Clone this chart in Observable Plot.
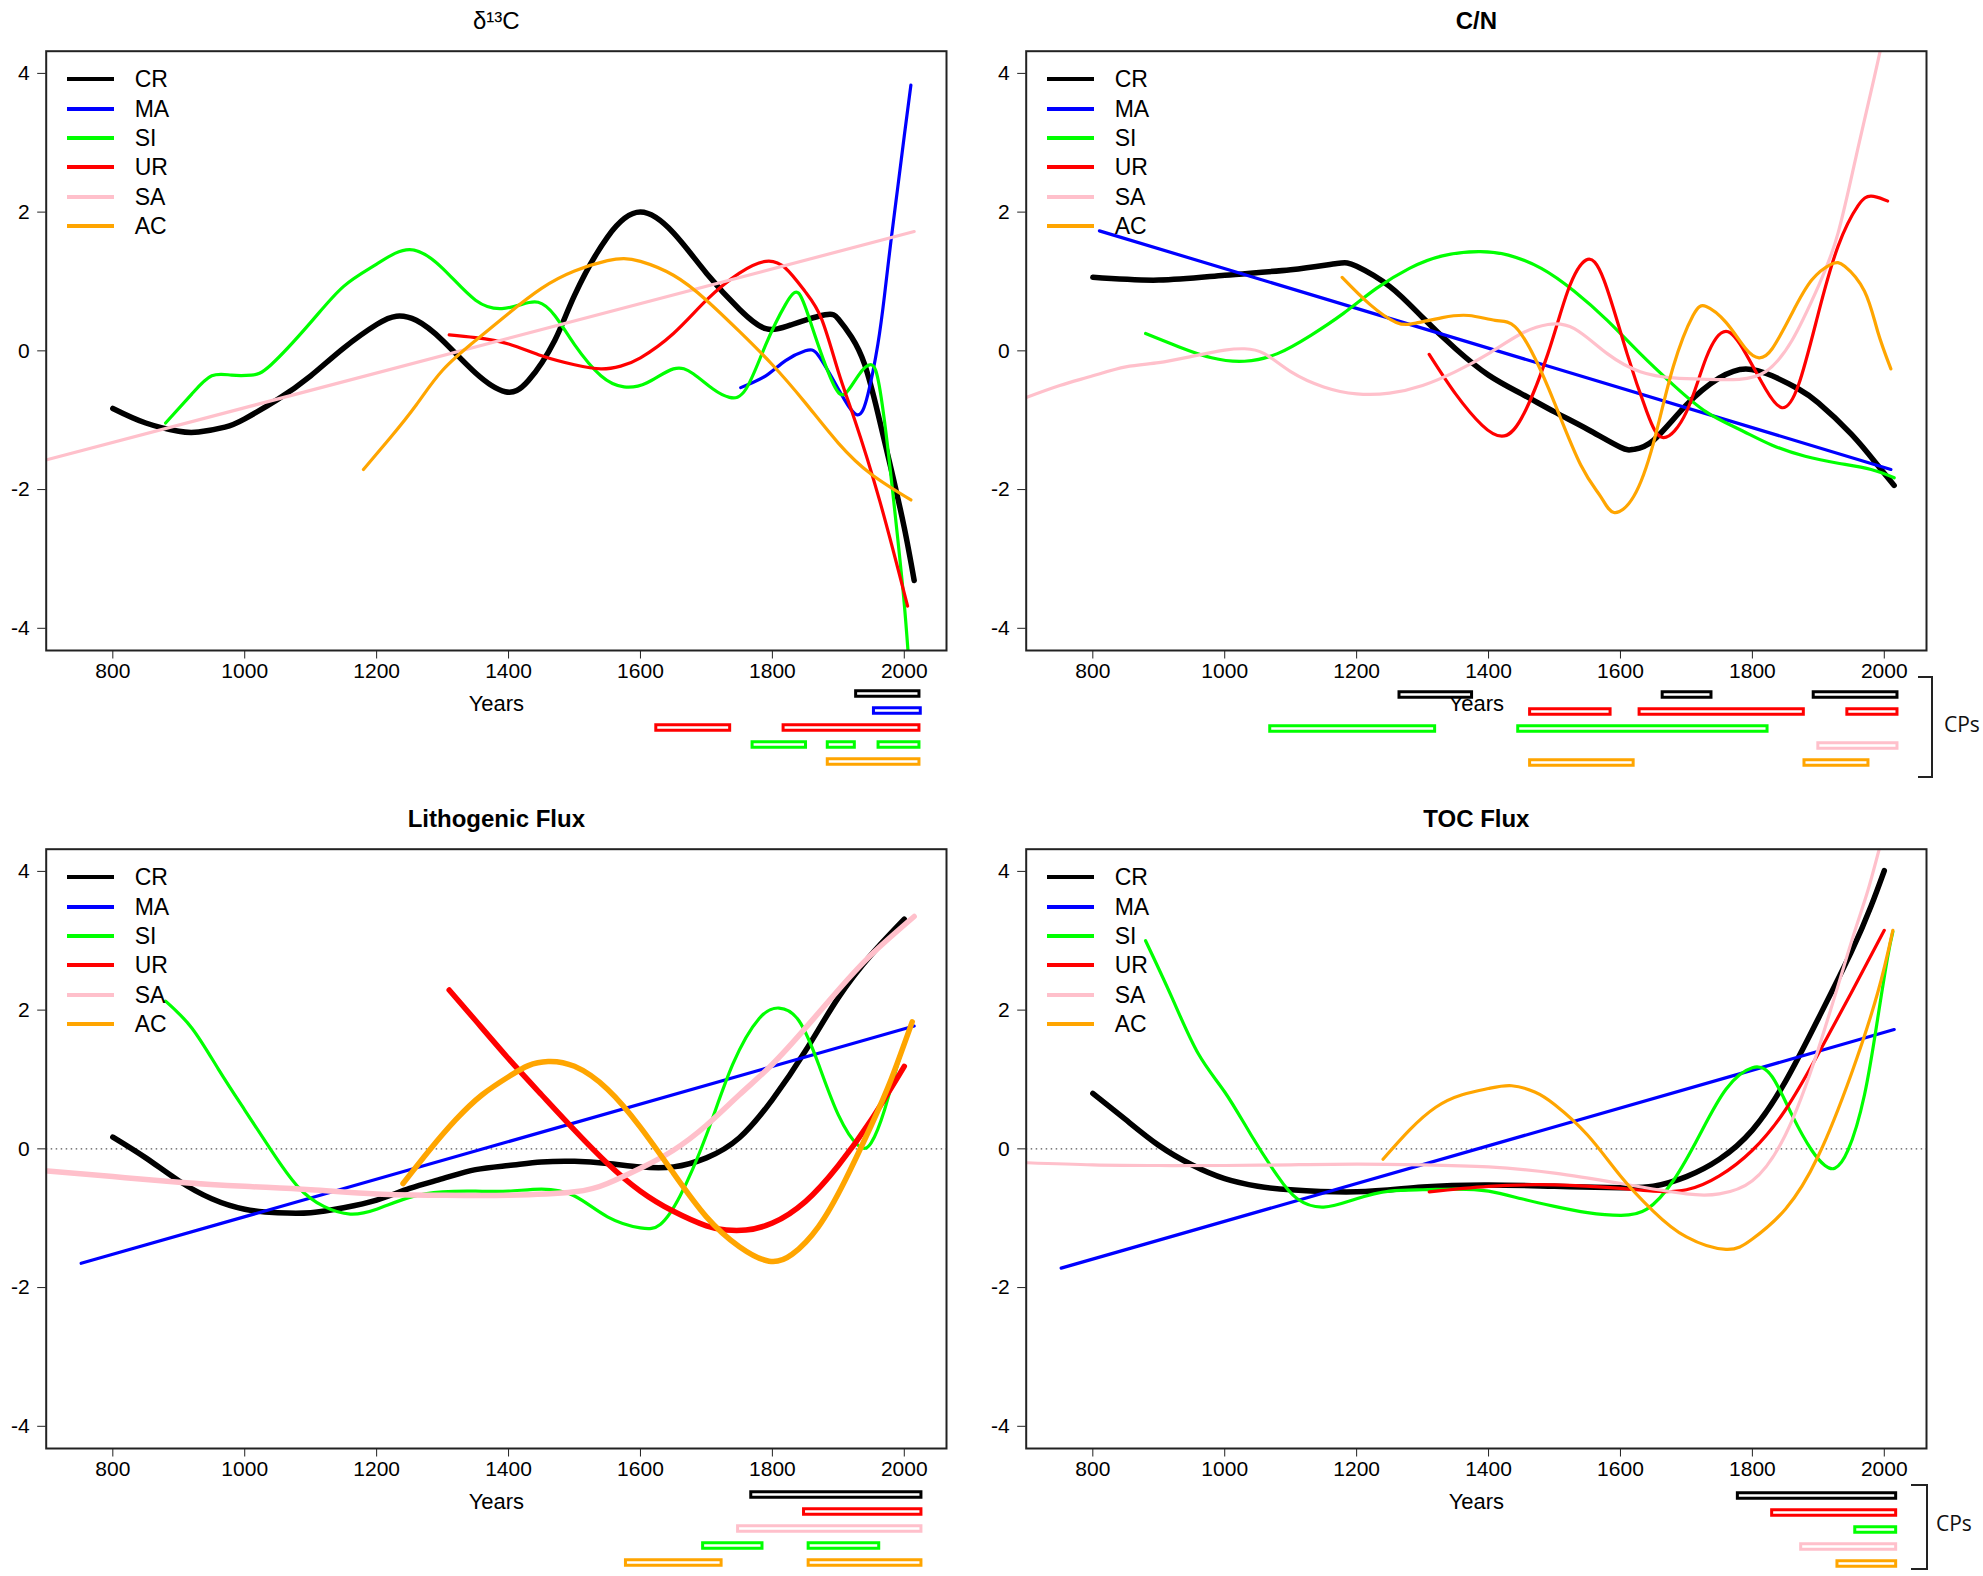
<!DOCTYPE html>
<html><head><meta charset="utf-8">
<script src="https://cdn.jsdelivr.net/npm/d3@7"></script>
<script src="https://cdn.jsdelivr.net/npm/@observablehq/plot@0.6"></script>
<style>
body{margin:0;background:#fff;}
#root{position:relative;width:1983px;height:1576px;overflow:hidden;font-family:"Liberation Sans",Arial,sans-serif;background:#fff;}
#root > svg, .abs{position:absolute;}
.legrow{position:absolute;display:flex;align-items:center;height:30px;}
.legline{width:47px;height:4px;}
.legtext{font-size:23px;color:#000;margin-left:21px;line-height:30px;}
.bracket{position:absolute;border:2px solid #222;border-left:none;box-sizing:border-box;}
.cps{position:absolute;font-family:"Open Sans","Liberation Sans",sans-serif;font-size:21px;color:#111;}
</style></head><body><div id="root"></div><script>
// ---- categories, styles of series ----
const sites = ["CR","MA","SI","UR","SA","AC"];
const siteColors = ["#000000","#0000ff","#00ff00","#ff0000","#ffc0cb","#ffa500"];
const xTicks = [800,1000,1200,1400,1600,1800,2000];
const yTicks = [-4,-2,0,2,4];
const panelTitles = ["δ¹³C","C/N","Lithogenic Flux","TOC Flux"];

// ---- δ13C ----
const d13C_CR = [[800,-0.83],[850,-1.04],[900,-1.16],[930,-1.17],[970,-1.1],[1000,-0.98],[1050,-0.7],[1100,-0.36],[1150,0.04],[1200,0.38],[1230,0.5],[1260,0.44],[1300,0.15],[1350,-0.32],[1395,-0.59],[1430,-0.43],[1470,0.15],[1500,0.8],[1550,1.64],[1600,2.0],[1650,1.7],[1700,1.12],[1750,0.6],[1790,0.32],[1830,0.38],[1880,0.52],[1900,0.46],[1920,0.2],[1940,-0.2],[1960,-0.9],[1980,-1.7],[2000,-2.55],[2015,-3.31]];
const d13C_MA = [[1752,-0.53],[1790,-0.36],[1820,-0.14],[1850,0.0],[1870,-0.07],[1900,-0.55],[1928,-0.92],[1945,-0.62],[1960,0.1],[1970,0.8],[1980,1.6],[1990,2.35],[2000,3.1],[2010,3.83]];
const d13C_SI = [[880,-1.04],[920,-0.62],[950,-0.36],[980,-0.35],[1010,-0.35],[1040,-0.2],[1100,0.41],[1150,0.93],[1200,1.25],[1250,1.46],[1300,1.19],[1350,0.73],[1390,0.61],[1420,0.67],[1445,0.7],[1470,0.51],[1500,0.09],[1540,-0.36],[1575,-0.52],[1610,-0.46],[1650,-0.26],[1680,-0.33],[1710,-0.55],[1735,-0.67],[1760,-0.55],[1790,0.09],[1820,0.67],[1840,0.83],[1860,0.35],[1890,-0.43],[1910,-0.62],[1930,-0.36],[1950,-0.2],[1962,-0.5],[1975,-1.4],[1990,-2.7],[2000,-3.65],[2007,-4.5]];
const d13C_UR = [[1310,0.23],[1350,0.19],[1400,0.1],[1450,-0.07],[1500,-0.2],[1540,-0.26],[1570,-0.22],[1600,-0.1],[1650,0.25],[1700,0.73],[1750,1.12],[1790,1.29],[1820,1.19],[1850,0.85],[1875,0.45],[1900,-0.3],[1925,-1.0],[1963,-2.17],[2005,-3.68]];
const d13C_SA = [[700,-1.57],[2015,1.72]];
const d13C_AC = [[1180,-1.71],[1220,-1.26],[1260,-0.78],[1300,-0.28],[1350,0.15],[1400,0.54],[1450,0.9],[1500,1.15],[1550,1.3],[1575,1.33],[1600,1.29],[1650,1.09],[1700,0.73],[1750,0.28],[1800,-0.2],[1850,-0.75],[1900,-1.33],[1950,-1.78],[2010,-2.15]];

// ---- C/N ----
const CN_CR = [[800,1.06],[900,1.02],[1000,1.09],[1100,1.17],[1170,1.26],[1200,1.22],[1250,0.93],[1300,0.48],[1350,0.03],[1400,-0.35],[1450,-0.62],[1500,-0.88],[1550,-1.13],[1600,-1.39],[1620,-1.42],[1650,-1.29],[1700,-0.78],[1750,-0.39],[1790,-0.26],[1830,-0.36],[1870,-0.55],[1900,-0.75],[1950,-1.2],[1990,-1.65],[2015,-1.94]];
const CN_MA = [[810,1.73],[2010,-1.71]];
const CN_SI = [[880,0.25],[930,0.06],[980,-0.1],[1030,-0.15],[1080,-0.04],[1130,0.22],[1180,0.54],[1230,0.9],[1280,1.19],[1330,1.37],[1385,1.43],[1430,1.38],[1480,1.19],[1530,0.86],[1580,0.44],[1630,-0.04],[1680,-0.49],[1730,-0.88],[1780,-1.13],[1830,-1.36],[1880,-1.52],[1930,-1.62],[1980,-1.71],[2015,-1.83]];
const CN_UR = [[1310,-0.05],[1350,-0.62],[1390,-1.07],[1420,-1.23],[1450,-0.97],[1490,-0.04],[1520,0.86],[1548,1.31],[1575,1.02],[1610,-0.04],[1640,-0.88],[1665,-1.25],[1700,-0.88],[1730,-0.1],[1760,0.28],[1790,-0.04],[1820,-0.55],[1845,-0.82],[1870,-0.49],[1900,0.54],[1930,1.51],[1960,2.09],[1980,2.23],[2000,2.18],[2005,2.16]];
const CN_SA = [[700,-0.67],[750,-0.5],[800,-0.36],[850,-0.23],[900,-0.17],[950,-0.08],[1000,0.01],[1030,0.03],[1060,-0.04],[1100,-0.3],[1150,-0.52],[1200,-0.62],[1250,-0.61],[1300,-0.5],[1350,-0.3],[1400,-0.04],[1450,0.25],[1490,0.38],[1530,0.32],[1580,-0.04],[1630,-0.3],[1680,-0.39],[1730,-0.41],[1780,-0.41],[1820,-0.3],[1860,0.15],[1900,0.93],[1930,1.7],[1960,2.92],[1985,3.95],[2000,4.6]];
const CN_AC = [[1178,1.06],[1220,0.67],[1260,0.41],[1290,0.4],[1330,0.48],[1370,0.51],[1410,0.44],[1440,0.35],[1470,-0.1],[1500,-0.75],[1540,-1.65],[1570,-2.1],[1590,-2.33],[1620,-2.1],[1650,-1.33],[1680,-0.23],[1710,0.51],[1730,0.64],[1760,0.41],[1790,0.03],[1810,-0.1],[1830,0.03],[1860,0.54],[1890,1.02],[1920,1.25],[1940,1.22],[1970,0.86],[1990,0.28],[2010,-0.26]];

// ---- Lithogenic Flux ----
const LF_CR = [[800,0.17],[850,-0.13],[900,-0.46],[950,-0.72],[1000,-0.87],[1050,-0.92],[1100,-0.92],[1150,-0.85],[1200,-0.74],[1250,-0.57],[1300,-0.43],[1350,-0.3],[1400,-0.24],[1450,-0.19],[1500,-0.18],[1550,-0.21],[1600,-0.26],[1650,-0.26],[1700,-0.13],[1750,0.16],[1800,0.71],[1850,1.41],[1900,2.18],[1950,2.8],[2000,3.31]];
const LF_MA = [[752,-1.65],[2015,1.77]];
const LF_SI = [[880,2.13],[920,1.74],[960,1.15],[1000,0.56],[1040,-0.02],[1080,-0.54],[1120,-0.83],[1160,-0.94],[1200,-0.87],[1250,-0.7],[1300,-0.62],[1350,-0.61],[1400,-0.61],[1450,-0.58],[1500,-0.68],[1550,-0.98],[1600,-1.14],[1630,-1.09],[1660,-0.68],[1700,0.2],[1740,1.22],[1780,1.88],[1810,2.03],[1840,1.85],[1870,1.22],[1900,0.49],[1930,0.05],[1950,0.09],[1970,0.56],[1990,1.22],[2010,1.77]];
const LF_UR = [[1310,2.29],[1350,1.85],[1400,1.3],[1450,0.78],[1500,0.27],[1550,-0.21],[1600,-0.61],[1650,-0.9],[1700,-1.11],[1730,-1.17],[1760,-1.17],[1800,-1.07],[1850,-0.76],[1900,-0.24],[1950,0.42],[2000,1.19]];
const LF_SA = [[700,-0.32],[800,-0.4],[900,-0.48],[1000,-0.54],[1100,-0.59],[1200,-0.65],[1300,-0.67],[1400,-0.67],[1500,-0.62],[1550,-0.5],[1600,-0.28],[1650,-0.02],[1700,0.34],[1750,0.78],[1800,1.22],[1850,1.74],[1900,2.29],[1950,2.8],[2015,3.35]];
const LF_AC = [[1240,-0.5],[1280,-0.02],[1320,0.42],[1360,0.78],[1400,1.04],[1430,1.2],[1460,1.26],[1500,1.19],[1550,0.86],[1600,0.31],[1650,-0.35],[1700,-0.98],[1750,-1.41],[1795,-1.62],[1830,-1.52],[1870,-1.12],[1910,-0.46],[1950,0.34],[1980,1.0],[2012,1.83]];

// ---- TOC Flux ----
const TOC_CR = [[800,0.8],[850,0.42],[900,0.05],[950,-0.23],[1000,-0.43],[1050,-0.54],[1100,-0.59],[1200,-0.62],[1300,-0.55],[1400,-0.52],[1500,-0.54],[1600,-0.56],[1650,-0.54],[1700,-0.4],[1750,-0.15],[1800,0.27],[1850,0.97],[1900,1.88],[1950,2.84],[1980,3.5],[2000,4.01]];
const TOC_MA = [[752,-1.72],[2015,1.72]];
const TOC_SI = [[880,3.0],[920,2.18],[960,1.37],[1000,0.82],[1040,0.2],[1080,-0.39],[1110,-0.72],[1150,-0.84],[1200,-0.72],[1250,-0.61],[1300,-0.59],[1350,-0.58],[1400,-0.61],[1450,-0.72],[1500,-0.83],[1550,-0.92],[1600,-0.96],[1640,-0.87],[1680,-0.46],[1720,0.2],[1760,0.86],[1800,1.17],[1830,1.04],[1860,0.49],[1890,-0.02],[1910,-0.24],[1925,-0.28],[1945,-0.02],[1970,0.78],[1990,1.88],[2005,2.76],[2013,3.13]];
const TOC_UR = [[1310,-0.62],[1400,-0.54],[1500,-0.52],[1600,-0.57],[1650,-0.61],[1700,-0.59],[1750,-0.39],[1800,-0.02],[1850,0.56],[1900,1.37],[1950,2.25],[2000,3.15]];
const TOC_SA = [[700,-0.2],[800,-0.23],[900,-0.24],[1000,-0.24],[1100,-0.23],[1200,-0.22],[1300,-0.23],[1400,-0.26],[1500,-0.35],[1600,-0.5],[1700,-0.65],[1750,-0.65],[1800,-0.46],[1850,0.2],[1900,1.44],[1950,2.98],[1975,3.72],[2000,4.6]];
const TOC_AC = [[1240,-0.15],[1280,0.27],[1320,0.6],[1360,0.78],[1400,0.87],[1435,0.91],[1470,0.82],[1500,0.64],[1550,0.2],[1600,-0.39],[1650,-0.9],[1700,-1.27],[1760,-1.45],[1800,-1.3],[1850,-0.87],[1900,-0.1],[1950,1.08],[1990,2.25],[2013,3.15]];

// ---- change points (CPs): [site, start, end] ----
const cp_d13C = [["CR",1927,2023],["MA",1954,2025],["UR",1624,1736],["UR",1817,2023],["SI",1770,1851],["SI",1884,1925],["SI",1961,2023],["AC",1884,2023]];
const cpRows_d13C = ["CR","MA","UR","SI","AC"];
const cp_CN = [["CR",1265,1375],["CR",1664,1738],["CR",1893,2020],["UR",1463,1585],["UR",1629,1878],["UR",1944,2020],["SI",1069,1319],["SI",1445,1823],["SA",1900,2020],["AC",1463,1620],["AC",1879,1976]];
const cpRows_CN = ["CR","UR","SI","SA","AC"];
const cp_LF = [["CR",1768,2026],["UR",1848,2026],["SA",1748,2026],["SI",1695,1785],["SI",1855,1962],["AC",1578,1723],["AC",1855,2026]];
const cpRows_LF = ["CR","UR","SA","SI","AC"];
const cp_TOC = [["CR",1778,2018],["UR",1830,2018],["SI",1956,2018],["SA",1874,2018],["AC",1929,2018]];
const cpRows_TOC = ["CR","UR","SI","SA","AC"];

const thick_d13C = ["CR"], thick_CN = ["CR"], thick_LF = ["CR","UR","SA","AC"], thick_TOC = ["CR"];

// ---- assemble ----
const panels = [
  {title: panelTitles[0], bold:false, series:[d13C_CR,d13C_MA,d13C_SI,d13C_UR,d13C_SA,d13C_AC], cp:cp_d13C, rows:cpRows_d13C, thick:thick_d13C, zero:false},
  {title: panelTitles[1], bold:true, series:[CN_CR,CN_MA,CN_SI,CN_UR,CN_SA,CN_AC], cp:cp_CN, rows:cpRows_CN, thick:thick_CN, zero:false},
  {title: panelTitles[2], bold:true, series:[LF_CR,LF_MA,LF_SI,LF_UR,LF_SA,LF_AC], cp:cp_LF, rows:cpRows_LF, thick:thick_LF, zero:true},
  {title: panelTitles[3], bold:true, series:[TOC_CR,TOC_MA,TOC_SI,TOC_UR,TOC_SA,TOC_AC], cp:cp_TOC, rows:cpRows_TOC, thick:thick_TOC, zero:true}
];

// layout (pixels)
const ML = 45.7, MT = 50.7, FW = 900.3, FH = 599.3;
const boxes = [
  {left:0, top:0, width:990, height:790, cpTop:43, bracket:null},
  {left:980, top:0, width:1003, height:790, cpTop:43.5, bracket:{left:1918, top:676, w:15, h:102, tx:1944, ty:724}},
  {left:0, top:798, width:990, height:778, cpTop:45.8, bracket:null},
  {left:980, top:798, width:1003, height:778, cpTop:46.3, bracket:{left:1911, top:1484, w:17, h:86, tx:1936, ty:1523}}
];
const ROW = 17.5;
const root = document.getElementById("root");
const xDomain = [699, 2064];
const yDomain = [-4.32, 4.32];
const colorScale = {domain: sites, range: siteColors};

panels.forEach((p, k) => {
  const b = boxes[k];
  const mr = b.width - ML - FW;
  const mb = b.height - MT - FH;
  const marks = [];
  if (p.zero) marks.push(Plot.ruleY([0], {stroke:"#555", strokeWidth:1.3, strokeDasharray:"1.5,3.5"}));
  sites.forEach((s, i) => {
    const data = p.series[i].map(([year, value]) => ({site:s, year, value}));
    marks.push(Plot.line(data, {x:"year", y:"value", stroke:"site", curve:"natural",
      strokeWidth: p.thick.includes(s) ? 5.5 : 3.2, clip:true}));
  });
  marks.push(Plot.frame({stroke:"#222", strokeWidth:2}));
  marks.push(Plot.axisX({ticks:xTicks, tickSize:8.5, tickPadding:4, fontSize:21, label:null, tickFormat:d=>String(d), stroke:"#222"}));
  marks.push(Plot.axisY({ticks:yTicks, tickSize:8.5, tickPadding:8, fontSize:21, label:null, tickFormat:d=>String(d), stroke:"#222"}));
  marks.push(Plot.text([p.title], {text:d=>d, frameAnchor:"top", dy:-39, fontSize:24, fontWeight:p.bold?"bold":"normal", fill:"#000"}));
  marks.push(Plot.text(["Years"], {text:d=>d, frameAnchor:"bottom", dy:60, fontSize:22, fill:"#000"}));
  const svg = Plot.plot({
    width:b.width, height:b.height,
    marginLeft:ML, marginRight:mr, marginTop:MT, marginBottom:mb,
    x:{domain:xDomain, axis:null}, y:{domain:yDomain, axis:null},
    color:colorScale,
    style:{fontFamily:'"Liberation Sans", Arial, sans-serif', color:"#000", background:"transparent", overflow:"visible"},
    marks
  });
  svg.style.left = b.left + "px"; svg.style.top = b.top + "px";
  root.appendChild(svg);

  // change-point bars under the x axis
  const cpData = p.cp.map(([site, start, end]) => ({site, start, end}));
  const cpH = ROW * p.rows.length;
  const cpSvg = Plot.plot({
    width:b.width, height:cpH,
    marginLeft:ML, marginRight:mr, marginTop:0, marginBottom:0,
    x:{domain:xDomain, axis:null},
    y:{type:"band", domain:p.rows, padding:0, axis:null},
    color:colorScale,
    style:{background:"transparent", overflow:"visible"},
    marks:[Plot.barX(cpData, {x1:"start", x2:"end", y:"site", fill:"white", stroke:"site", strokeWidth:3, insetTop:(ROW-6)/2, insetBottom:(ROW-6)/2})]
  });
  cpSvg.style.left = b.left + "px";
  cpSvg.style.top = (b.top + MT + FH + b.cpTop - ROW/2) + "px";
  root.appendChild(cpSvg);

  // legend (top-left inside frame)
  sites.forEach((s, i) => {
    const row = document.createElement("div");
    row.className = "legrow";
    row.style.left = (b.left + ML + 21) + "px";
    row.style.top = (b.top + MT + 28.6 + i*29.35 - 15) + "px";
    const ln = document.createElement("div");
    ln.className = "legline"; ln.style.background = siteColors[i];
    const tx = document.createElement("span");
    tx.className = "legtext"; tx.textContent = s;
    row.appendChild(ln); row.appendChild(tx);
    root.appendChild(row);
  });

  if (b.bracket) {
    const br = document.createElement("div");
    br.className = "bracket";
    Object.assign(br.style, {left:b.bracket.left+"px", top:b.bracket.top+"px", width:b.bracket.w+"px", height:b.bracket.h+"px"});
    root.appendChild(br);
    const t = document.createElement("div");
    t.className = "cps"; t.textContent = "CPs";
    Object.assign(t.style, {left:b.bracket.tx+"px", top:(b.bracket.ty-15)+"px", lineHeight:"30px"});
    root.appendChild(t);
  }
});
</script></body></html>
